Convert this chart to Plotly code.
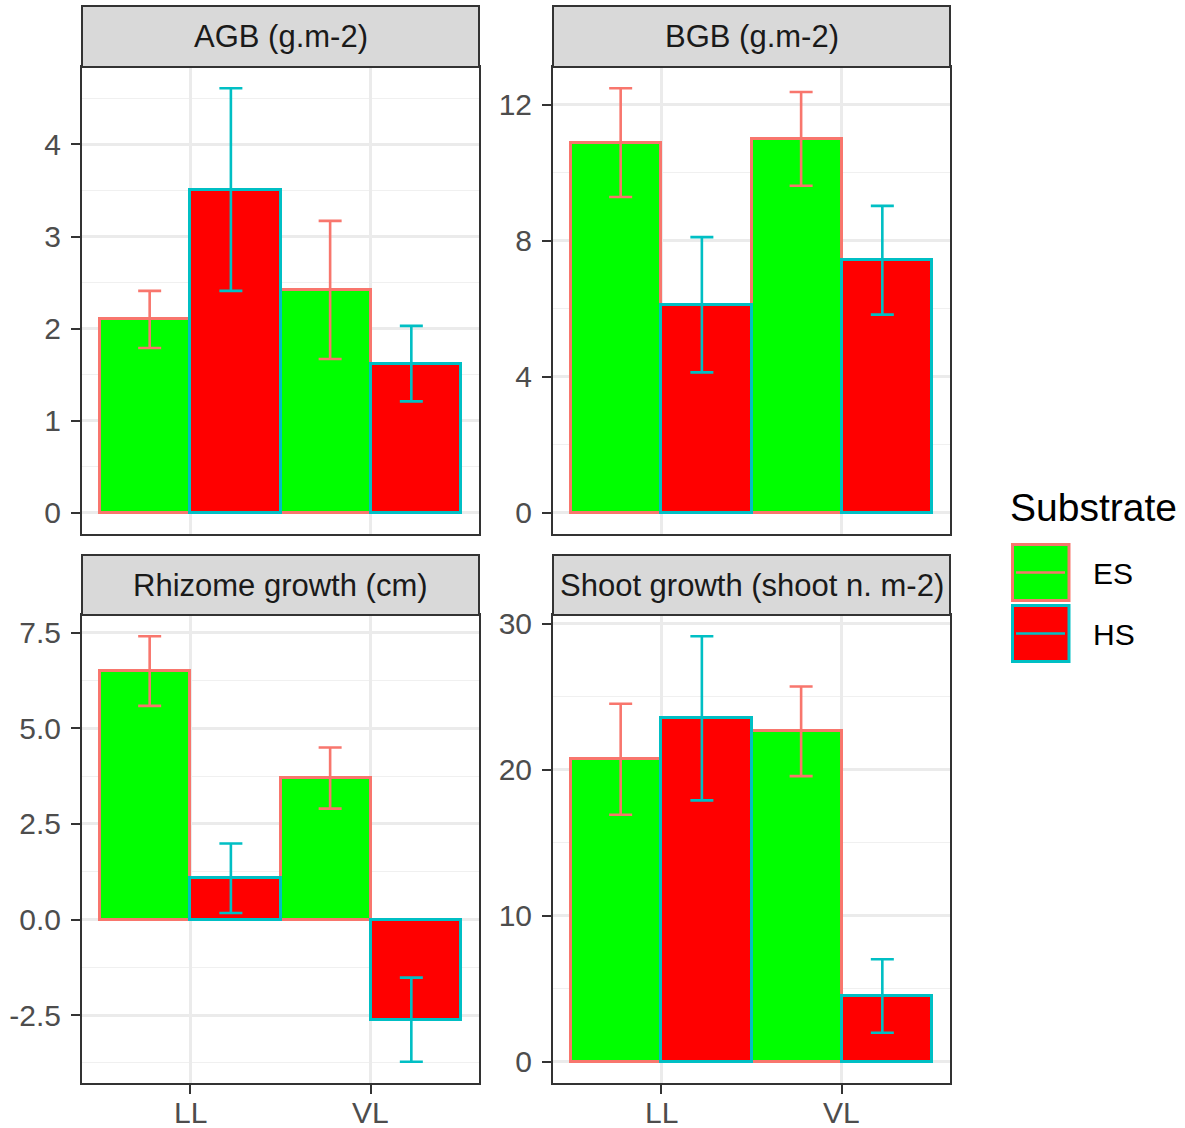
import plotly.graph_objects as go

W, H = 1185, 1128

sites = ["LL", "VL"]
substrates = ["ES", "HS"]
panel_titles = ["AGB (g.m-2)", "BGB (g.m-2)", "Rhizome growth (cm)", "Shoot growth (shoot n. m-2)"]

# means and standard errors per panel, [LL, VL]
agb_es = [2.10, 2.42]
agb_es_se = [0.31, 0.75]
agb_hs = [3.51, 1.62]
agb_hs_se = [1.10, 0.41]

bgb_es = [10.89, 11.00]
bgb_es_se = [1.60, 1.38]
bgb_hs = [6.12, 7.43]
bgb_hs_se = [1.99, 1.60]

rhz_es = [6.50, 3.70]
rhz_es_se = [0.91, 0.80]
rhz_hs = [1.08, -2.62]
rhz_hs_se = [0.91, 1.10]

sht_es = [20.72, 22.63]
sht_es_se = [3.80, 3.07]
sht_hs = [23.52, 4.50]
sht_hs_se = [5.62, 2.52]

# y tick values and labels per panel
agb_ticks = [0, 1, 2, 3, 4]
agb_labels = ["0", "1", "2", "3", "4"]
bgb_ticks = [0, 4, 8, 12]
bgb_labels = ["0", "4", "8", "12"]
rhz_ticks = [-2.5, 0, 2.5, 5, 7.5]
rhz_labels = ["-2.5", "0.0", "2.5", "5.0", "7.5"]
sht_ticks = [0, 10, 20, 30]
sht_labels = ["0", "10", "20", "30"]

panels = [
    (agb_es, agb_es_se, agb_hs, agb_hs_se, agb_ticks, agb_labels),
    (bgb_es, bgb_es_se, bgb_hs, bgb_hs_se, bgb_ticks, bgb_labels),
    (rhz_es, rhz_es_se, rhz_hs, rhz_hs_se, rhz_ticks, rhz_labels),
    (sht_es, sht_es_se, sht_hs, sht_hs_se, sht_ticks, sht_labels),
]

fill = {"ES": "#00FF00", "HS": "#FF0000"}
edge = {"ES": "#F8766D", "HS": "#00BFC4"}

FONT = "Liberation Sans, Arial, sans-serif"
BORDER = "#333333"

# panel pixel boxes
cols = [(82, 479), (553, 950)]
rows = [(6, 67, 534), (555, 615, 1083)]  # strip top, plot top, plot bottom

fig = go.Figure()
layout = {}
shapes = []
annotations = []

for i, (es, es_se, hs, hs_se, tv, tt) in enumerate(panels):
    r, c = divmod(i, 2)
    x0, x1 = cols[c]
    s_top, p_top, p_bot = rows[r]
    ax = "" if i == 0 else str(i + 1)
    for name, vals, se in (("ES", es, es_se), ("HS", hs, hs_se)):
        fig.add_trace(go.Bar(
            x=sites, y=vals, name=name, showlegend=False,
            xaxis="x" + ax, yaxis="y" + ax,
            offsetgroup=name,
            marker=dict(color=fill[name], line=dict(color=edge[name], width=3)),
        ))
    for name, vals, se in (("ES", es, es_se), ("HS", hs, hs_se)):
        fig.add_trace(go.Scatter(
            x=sites, y=vals, name=name, showlegend=False, mode="markers",
            xaxis="x" + ax, yaxis="y" + ax, offsetgroup=name,
            marker=dict(size=0.1, color="rgba(0,0,0,0)"),
            error_y=dict(type="data", array=se, visible=True, color=edge[name],
                         thickness=2.6, width=11.5),
            hoverinfo="skip",
        ))
    lows = [v - s for v, s in zip(es + hs, es_se + hs_se)] + [0]
    highs = [v + s for v, s in zip(es + hs, es_se + hs_se)] + [0]
    lo, hi = min(lows), max(highs)
    pad = (hi - lo) * 0.05
    dt = tv[1] - tv[0]
    minor_vals = [v + dt / 2 for v in [tv[0] - dt] + tv]
    layout["xaxis" + ax] = dict(
        domain=[x0 / W, x1 / W], anchor="y" + ax, type="category",
        categoryorder="array", categoryarray=sites, automargin=False,
        range=[-0.6, 1.6], showgrid=True, gridcolor="#EBEBEB", gridwidth=2.5,
        showline=True, mirror=True, linecolor=BORDER, linewidth=2,
        ticks="outside" if r == 1 else "", ticklen=9, tickwidth=2, tickcolor=BORDER,
        showticklabels=False, zeroline=False,
    )
    layout["yaxis" + ax] = dict(
        domain=[1 - p_bot / H, 1 - p_top / H], anchor="x" + ax, automargin=False,
        range=[lo - pad, hi + pad], tickmode="array", tickvals=tv, ticktext=tt,
        showgrid=True, gridcolor="#EBEBEB", gridwidth=2.5,
        minor=dict(tickmode="array", tickvals=minor_vals, showgrid=True,
                   gridcolor="#F0F0F0", gridwidth=1.3, ticks=""),
        showline=True, mirror=True, linecolor=BORDER, linewidth=2,
        ticks="outside", ticklen=9, tickwidth=2, tickcolor=BORDER,
        tickfont=dict(family=FONT, size=30, color="#4D4D4D"),
        ticklabelstandoff=4, zeroline=False,
    )
    if r == 1:
        for s in sites:
            annotations.append(dict(text=s, xref="x" + ax, yref="paper", x=s,
                                    y=1 - 1112 / H, xanchor="center", yanchor="middle",
                                    showarrow=False,
                                    font=dict(family=FONT, size=30, color="#4D4D4D")))
    shapes.append(dict(type="rect", xref="paper", yref="paper",
                       x0=x0 / W, x1=x1 / W, y0=1 - p_top / H, y1=1 - s_top / H,
                       fillcolor="#D9D9D9", line=dict(color=BORDER, width=2), layer="above"))
    annotations.append(dict(text=panel_titles[i], xref="paper", yref="paper",
                            x=(x0 + x1) / 2 / W, y=1 - (s_top + p_top) / 2 / H,
                            xanchor="center", yanchor="middle", showarrow=False,
                            font=dict(family=FONT, size=31, color="#1A1A1A")))

# legend drawn manually
annotations.append(dict(text="Substrate", xref="paper", yref="paper",
                        x=1008 / W, y=1 - 507 / H, xanchor="left", yanchor="middle",
                        showarrow=False, font=dict(family=FONT, size=39, color="black")))
key_tops = {"ES": 543, "HS": 604}
for name in substrates:
    t = key_tops[name]
    shapes.append(dict(type="rect", xref="paper", yref="paper",
                       x0=1012.5 / W, x1=1069 / W, y0=1 - (t + 57.5) / H, y1=1 - (t + 1.5) / H,
                       fillcolor=fill[name], line=dict(color=edge[name], width=3)))
    shapes.append(dict(type="line", xref="paper", yref="paper",
                       x0=1016 / W, x1=1065 / W, y0=1 - (t + 29.5) / H, y1=1 - (t + 29.5) / H,
                       line=dict(color=edge[name], width=2.5)))
    annotations.append(dict(text=name, xref="paper", yref="paper",
                            x=1091 / W, y=1 - (t + 30) / H, xanchor="left", yanchor="middle",
                            showarrow=False, font=dict(family=FONT, size=30, color="black")))

fig.update_layout(
    width=W, height=H, margin=dict(l=0, r=0, t=0, b=0, autoexpand=False),
    paper_bgcolor="white", plot_bgcolor="white",
    barmode="group", bargap=0, bargroupgap=0,
    scattermode="group", scattergap=0.1,
    showlegend=False, shapes=shapes, annotations=annotations,
    font=dict(family=FONT),
    **layout,
)

fig.write_html("out.html")
